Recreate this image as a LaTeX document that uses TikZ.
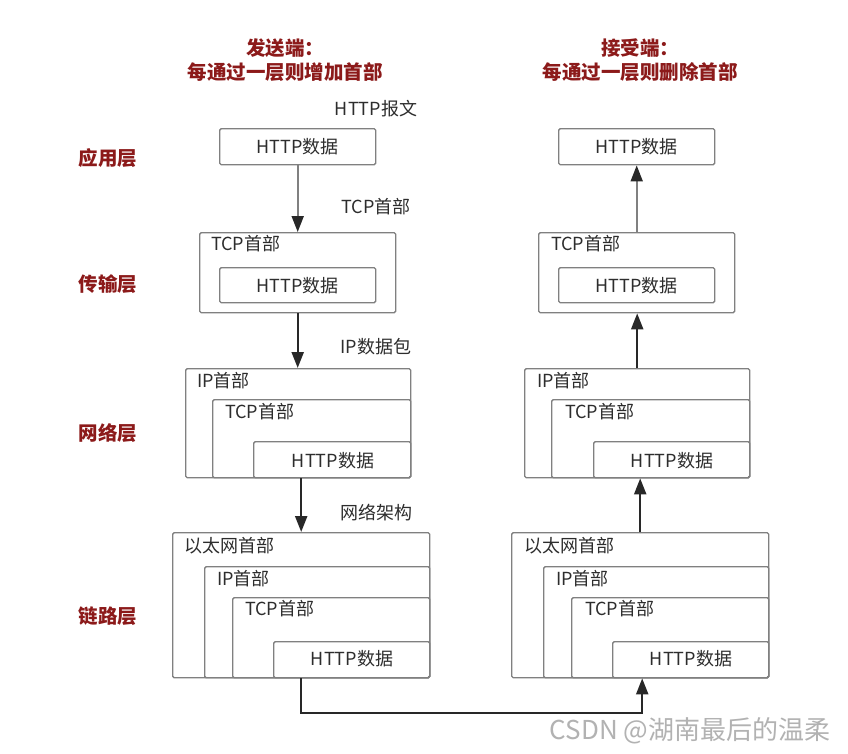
\documentclass[tikz,border=0pt]{standalone}
\usepackage{fontspec}
\setmainfont{Noto Sans CJK SC}
\usetikzlibrary{arrows.meta}
\definecolor{titlered}{RGB}{140,26,26}
\definecolor{boxgray}{RGB}{128,128,128}
\definecolor{txt}{RGB}{45,45,45}
\definecolor{darkline}{RGB}{40,40,40}
\begin{document}
\begin{tikzpicture}[x=1pt,y=-1pt,
  pkt/.style={draw=boxgray,line width=1.4pt,rounded corners=1.5pt,anchor=north west,inner sep=0pt},
  lbl/.style={font=\fontsize{18}{20}\selectfont,text=txt,inner sep=0pt},
  hdr/.style={lbl,anchor=west},
  ttl/.style={font=\bfseries\fontsize{19.5}{24}\selectfont,text=titlered,inner sep=0pt,align=center},
  layer/.style={font=\bfseries\fontsize{19.5}{22}\selectfont,text=titlered,inner sep=0pt},
  arrg/.style={draw=boxgray,line width=1.8pt,-{Triangle[length=16pt,width=12pt,color=darkline]}},
  arrd/.style={draw=darkline,line width=2.2pt,-{Triangle[length=16pt,width=12pt]}},
  link/.style={draw=darkline,line width=2.2pt}
]
\useasboundingbox[fill=white] (0,0) rectangle (848,753);

% titles
\node[ttl] (t1) at (285,60) {发送端：\\每通过一层则增加首部};
\node[ttl] (t2) at (640,60) {接受端：\\每通过一层则删除首部};

% layer labels
\node[layer] (L1) at (108,158) {应用层};
\node[layer] (L2) at (108,284) {传输层};
\node[layer] (L3) at (108,433) {网络层};
\node[layer] (L4) at (108,616) {链路层};

% ===== sender =====
\node[pkt,minimum width=156,minimum height=36] (la) at (219,128) {};
\node[lbl] (la1) at (la.center) {HTTP数据};

\node[pkt,minimum width=196,minimum height=80] (lt) at (199,232) {};
\node[hdr] (lt0) at (211,244) {TCP首部};
\node[pkt,minimum width=156,minimum height=35] (lt1) at (219,267) {};
\node[lbl] (lt1t) at (lt1.center) {HTTP数据};

\node[pkt,minimum width=225,minimum height=109] (ln) at (185,368) {};
\node[hdr] (ln0) at (197,381) {IP首部};
\node[pkt,minimum width=198,minimum height=78] (ln1) at (212,399) {};
\node[hdr] (ln1t) at (225,412) {TCP首部};
\node[pkt,minimum width=157,minimum height=36] (ln2) at (253,441) {};
\node[lbl] (ln2t) at (333,461) {HTTP数据};

\node[pkt,minimum width=257,minimum height=145] (lk) at (172,532) {};
\node[hdr] (lk0) at (184,546) {以太网首部};
\node[pkt,minimum width=225,minimum height=111] (lk1) at (204,566) {};
\node[hdr] (lk1t) at (217,579) {IP首部};
\node[pkt,minimum width=197,minimum height=80] (lk2) at (232,597) {};
\node[hdr] (lk2t) at (245,609) {TCP首部};
\node[pkt,minimum width=156,minimum height=36] (lk3) at (273,641) {};
\node[lbl] (lk3t) at (352,659) {HTTP数据};

% side labels
\node[lbl] (s1) at (376,109) {HTTP报文};
\node[lbl] (s2) at (376,207) {TCP首部};
\node[lbl] (s3) at (376,347) {IP数据包};
\node[lbl] (s4) at (376,513) {网络架构};

% ===== receiver =====
\node[pkt,minimum width=156,minimum height=36] (ra) at (558,128) {};
\node[lbl] (ra1) at (ra.center) {HTTP数据};

\node[pkt,minimum width=196,minimum height=80] (rt) at (538,232) {};
\node[hdr] (rt0) at (551,244) {TCP首部};
\node[pkt,minimum width=156,minimum height=35] (rt1) at (558,267) {};
\node[lbl] (rt1t) at (rt1.center) {HTTP数据};

\node[pkt,minimum width=225,minimum height=109] (rn) at (524,368) {};
\node[hdr] (rn0) at (537,381) {IP首部};
\node[pkt,minimum width=198,minimum height=78] (rn1) at (551,399) {};
\node[hdr] (rn1t) at (565,412) {TCP首部};
\node[pkt,minimum width=156,minimum height=36] (rn2) at (593,441) {};
\node[lbl] (rn2t) at (672,461) {HTTP数据};

\node[pkt,minimum width=257,minimum height=145] (rk) at (511,532) {};
\node[hdr] (rk0) at (524,546) {以太网首部};
\node[pkt,minimum width=225,minimum height=111] (rk1) at (543,566) {};
\node[hdr] (rk1t) at (556,579) {IP首部};
\node[pkt,minimum width=197,minimum height=80] (rk2) at (571,597) {};
\node[hdr] (rk2t) at (585,609) {TCP首部};
\node[pkt,minimum width=156,minimum height=36] (rk3) at (612,641) {};
\node[lbl] (rk3t) at (691,659) {HTTP数据};

% ===== connectors =====
\draw[arrg] (la.south) -- (lt.north -| la.south);
\draw[arrd] (lt.south) -- (ln.north -| lt.south);
\draw[arrd] (lk.north |- ln.south) -- (lk.north);
\draw[link] (lk.south) -- (lk.south |- 0,713) -| ([xshift=2pt]rk.south |- 0,700);
\draw[arrd] ([xshift=2pt]rk.south |- 0,702) -- ([xshift=2pt]rk.south);
\draw[arrd] (rk.north) -- (rk.north |- rn.south);
\draw[arrd] (rn.north) -- (rn.north |- rt.south);
\draw[arrg] (rt.north) -- (rt.north |- ra.south);

% watermark
\node[font=\fontsize{26}{28}\selectfont,text=gray!60,inner sep=0pt] (wm) at (690,731) {CSDN @湖南最后的温柔};
\end{tikzpicture}
\end{document}
